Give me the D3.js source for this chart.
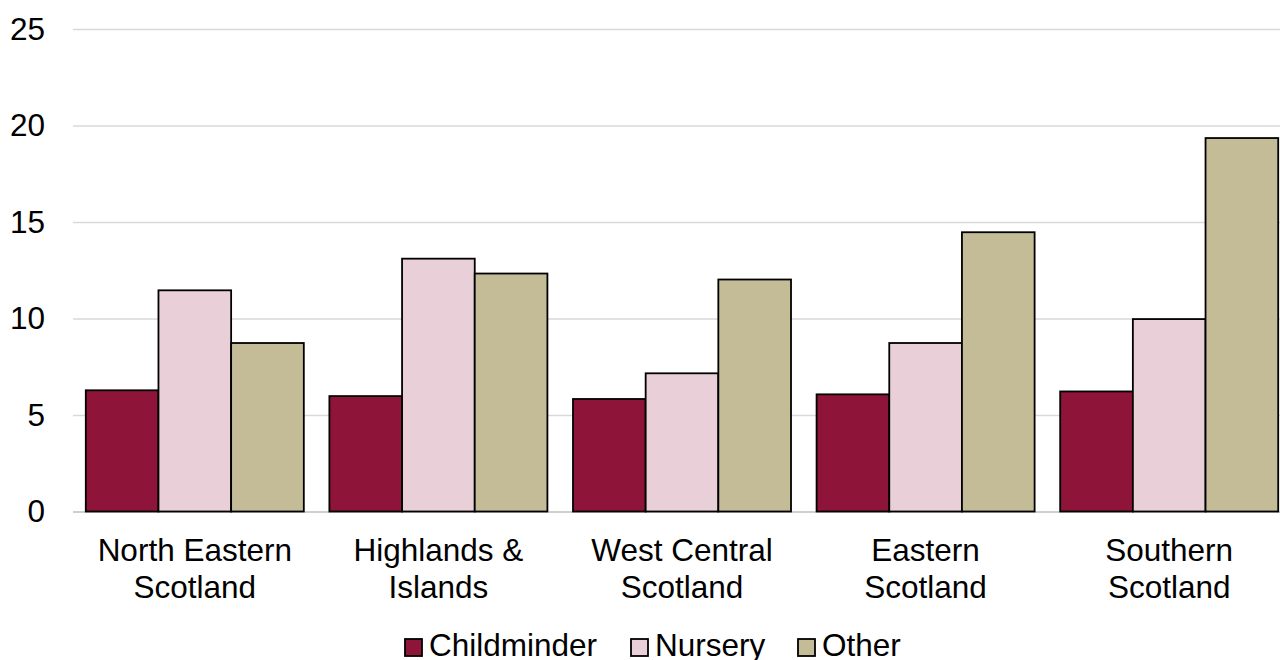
<!DOCTYPE html>
<html>
<head>
<meta charset="utf-8">
<script src="https://cdn.jsdelivr.net/npm/d3@7"></script>
<style>
  html, body { margin: 0; padding: 0; background: #ffffff; }
  svg { display: block; font-family: "Liberation Sans", Arial, sans-serif; }
</style>
</head>
<body>
<svg id="chart" width="1280" height="660"></svg>
<script>
// Regions along the x axis (each label split over two lines)
const regions = [
  ["North Eastern", "Scotland"],
  ["Highlands &", "Islands"],
  ["West Central", "Scotland"],
  ["Eastern", "Scotland"],
  ["Southern", "Scotland"]
];
const seriesNames = ["Childminder", "Nursery", "Other"];
const seriesColors = ["#8f1439", "#e8cfd8", "#c4bc96"];

// Values per series, in region order
const childminder = [6.28, 5.98, 5.83, 6.07, 6.22];
const nursery     = [11.46, 13.10, 7.16, 8.73, 9.97];
const other       = [8.73, 12.33, 12.02, 14.47, 19.35];
const yTicks = [0, 5, 10, 15, 20, 25];

const seriesValues = [childminder, nursery, other];
const regionKeys = regions.map(r => r.join(" "));

const svg = d3.select("#chart");
const plot = { left: 73, right: 1291, top: 29, bottom: 511.5 };

const x0 = d3.scaleBand()
  .domain(regionKeys)
  .range([plot.left, plot.right])
  .paddingInner(0.105)
  .paddingOuter(0.0525);

const x1 = d3.scaleBand()
  .domain(seriesNames)
  .range([0, x0.bandwidth()]);

const y = d3.scaleLinear().domain([0, 25]).range([plot.bottom, plot.top]);

// Horizontal gridlines and y tick labels
const yAxis = d3.axisLeft(y)
  .tickValues(yTicks)
  .tickSize(-(plot.right - plot.left))
  .tickPadding(28)
  .tickFormat(d3.format("d"));

const gy = svg.append("g")
  .attr("transform", `translate(${plot.left},0)`)
  .call(yAxis);
gy.select(".domain").remove();
gy.selectAll(".tick line")
  .attr("stroke", d => d === 0 ? "#bfbfbf" : "#d9d9d9")
  .attr("stroke-width", 1.4);
gy.selectAll(".tick text")
  .attr("fill", "#000")
  .attr("font-size", 31.5)
  .attr("font-family", "Liberation Sans, Arial, sans-serif");

// Bars
const groups = svg.append("g").selectAll("g")
  .data(regionKeys)
  .join("g")
  .attr("transform", d => `translate(${x0(d)},0)`);

groups.selectAll("rect")
  .data((d, i) => seriesNames.map((s, k) => ({ series: s, k, value: seriesValues[k][i] })))
  .join("rect")
  .attr("x", d => x1(d.series))
  .attr("y", d => y(d.value))
  .attr("width", x1.bandwidth())
  .attr("height", d => y(0) - y(d.value))
  .attr("fill", d => seriesColors[d.k])
  .attr("stroke", "#000")
  .attr("stroke-width", 1.8);

// Category labels (two lines each)
const xl = svg.append("g");
regions.forEach((lines, i) => {
  const cx = x0(regionKeys[i]) + x0.bandwidth() / 2;
  const t = xl.append("text")
    .attr("x", cx)
    .attr("y", 561)
    .attr("text-anchor", "middle")
    .attr("font-size", 31.5)
    .attr("fill", "#000");
  lines.forEach((ln, j) => {
    t.append("tspan")
      .attr("x", cx)
      .attr("dy", j === 0 ? 0 : 36.5)
      .text(ln);
  });
});

// Legend
const legendItems = [
  { name: "Childminder", x: 405 },
  { name: "Nursery", x: 631 },
  { name: "Other", x: 798 }
];
const lg = svg.append("g");
legendItems.forEach((it, k) => {
  lg.append("rect")
    .attr("x", it.x)
    .attr("y", 639)
    .attr("width", 17)
    .attr("height", 17)
    .attr("fill", seriesColors[k])
    .attr("stroke", "#000")
    .attr("stroke-width", 1.8);
  lg.append("text")
    .attr("x", it.x + 24)
    .attr("y", 656)
    .attr("font-size", 31.5)
    .attr("fill", "#000")
    .text(it.name);
});
</script>
</body>
</html>
